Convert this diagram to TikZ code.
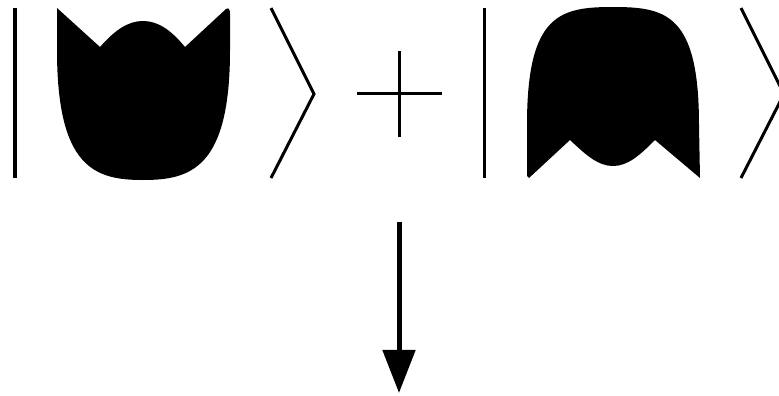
\documentclass[tikz,border=0pt]{standalone}
\usepackage{xcolor}
\usetikzlibrary{arrows.meta}
\definecolor{ink}{RGB}{0,0,0}
\tikzset{
  ketline/.style={draw=ink, line width=0.075cm},
  blob/.style={fill=ink},
  flow/.style={draw=ink, line width=0.125cm, -{Triangle[length=1.075cm,width=0.8cm]}}
}
\begin{document}
\begin{tikzpicture}[x=0.025cm,y=-0.025cm]
  \clip (0,0) rectangle (779,396);
  % first ket
  \draw[ketline] (15,8) -- (15,178);
  \path[blob] (57,8) -- (100,47) .. controls (115,30) and (128,21) .. (143,21)
    .. controls (158,21) and (171,30) .. (185,47) -- (226,9)
    .. controls (229,7) and (230,10) .. (230,14) -- (230,50)
    .. controls (230,168) and (191,180) .. (143,180)
    .. controls (95,180) and (57,168) .. (57,50) -- cycle;
  \draw[ketline] (271,8) -- (314,94) -- (271,178);
  % plus
  \draw[ketline] (357,93) -- (442,93) (399,51) -- (399,137);
  % second ket
  \draw[ketline] (484,8) -- (484,178);
  \path[blob] (529,178) .. controls (527,177) and (527,176) .. (527,172) -- (527,125)
    .. controls (527,14) and (560,7) .. (613,7)
    .. controls (666,7) and (699,14) .. (699,125) -- (700,178) -- (655,140)
    .. controls (640,155) and (628,166) .. (613,166)
    .. controls (598,166) and (586,155) .. (570,140) -- cycle;
  \draw[ketline] (741,8) -- (784,94) -- (741,178);
  % arrow
  \coordinate (from) at (399,222);
  \coordinate (to) at (399,393);
  \draw[flow] (from) -- (to);
\end{tikzpicture}
\end{document}
